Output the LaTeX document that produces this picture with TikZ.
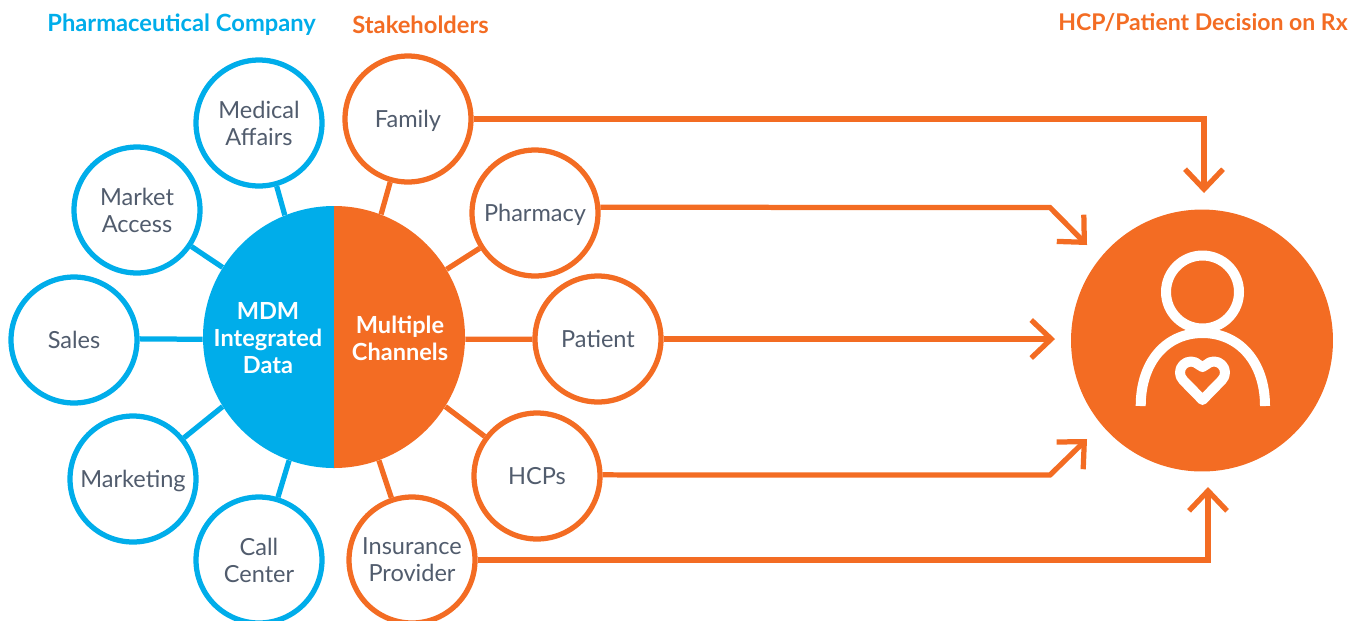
\documentclass[tikz,border=0pt]{standalone}
\usepackage{fontspec}
\setmainfont{Lato}
\usetikzlibrary{arrows.meta}
\definecolor{mdmblue}{HTML}{00ADEA}
\definecolor{rxorange}{HTML}{F36C23}
\definecolor{labelgray}{HTML}{515C6D}

\begin{document}
\begin{tikzpicture}[x=0.02cm,y=-0.02cm,line join=miter]
        \tikzstyle{bluenode}=[
            circle,
            draw=mdmblue,
            line width=0.105cm,
            fill=white,
            minimum size=2.52cm,
            inner sep=0pt,
            align=center,
            text=labelgray,
            font=\fontsize{13.4}{15.4}\selectfont
        ]
        \tikzstyle{orangenode}=[bluenode, draw=rxorange]
        \tikzstyle{hubnode}=[
            circle,
            minimum size=5.24cm,
            inner sep=0pt
        ]
        \tikzstyle{hubtext}=[
            align=center,
            text=white,
            font=\fontsize{13.4}{15.4}\selectfont\bfseries
        ]
        \tikzstyle{headnode}=[
            anchor=west,
            inner sep=0pt,
            font=\fontsize{13.5}{16}\selectfont\bfseries
        ]
        \tikzstyle{spoke}=[line width=0.105cm]
        \tikzstyle{flow}=[
            draw=rxorange,
            line width=0.105cm,
            -{Straight Barb[length=0.4cm,width=0.76cm]}
        ]
        \tikzstyle{icon}=[draw=white, line width=0.2cm]

        \useasboundingbox (0,0) rectangle (1351,620);

        % hub
        \node[hubnode] (hub) at (334,337){};
        \fill[mdmblue] (334,206) arc (-90:-270:131) -- cycle;
        \fill[rxorange] (334,206) arc (-90:90:131) -- cycle;
        \node[hubtext] (mdm) at (268,338){MDM\\Integrated\\Data};
        \node[hubtext] (channels) at (400,338){Multiple\\Channels};

        % pharma side
        \node[bluenode, text depth=-2.3pt] (medical) at (259,123){Medical\\Affairs};
        \node[bluenode, text depth=-2.3pt] (market) at (137,210){Market\\Access};
        \node[bluenode] (sales) at (74,340){Sales};
        \node[bluenode, text depth=0.4pt] (marketing) at (133,479){Marketing};
        \node[bluenode] (callcenter) at (259,560){Call\\Center};

        % stakeholders
        \node[orangenode, text depth=0.4pt] (family) at (408,119){Family};
        \node[orangenode, text depth=0.4pt] (pharmacy) at (535,213){Pharmacy};
        \node[orangenode] (patient) at (598,339){Patient};
        \node[orangenode] (hcps) at (537,476){HCPs};
        \node[orangenode, text depth=-1.7pt] (insurance) at (412,560){Insurance\\Provider};

        \draw[spoke, mdmblue] (medical) -- (hub.112);
        \draw[spoke, mdmblue] (market) -- (hub.148);
        \draw[spoke, mdmblue] (sales.1) -- (hub.181);
        \draw[spoke, mdmblue] (marketing) -- (hub.212);
        \draw[spoke, mdmblue] (callcenter) -- (hub.250);
        \draw[spoke, rxorange] (family) -- (hub.69);
        \draw[spoke, rxorange] (pharmacy) -- (hub.31);
        \draw[spoke, rxorange] (patient) -- (hub.-1);
        \draw[spoke, rxorange] (hcps) -- (hub.328);
        \draw[spoke, rxorange] (insurance) -- (hub.290);

        % headings
        \node[headnode, text=mdmblue] (pharmahead) at (47,25){Pharmaceutical Company};
        \node[headnode, text=rxorange] (stakehead) at (352,25){Stakeholders};
        \node[headnode, text=rxorange, font=\fontsize{13.1}{16}\selectfont\bfseries] (rxhead) at (1058,22){HCP/Patient Decision on Rx};

        % decision
        \node[hubnode, fill=rxorange] (decision) at (1202,340.5){};
        \node[circle, icon, minimum size=1.46cm, inner sep=0pt] (head) at (1202.5,292){};
        \draw[icon] (1140.7,406) .. controls (1140.7,362) and (1166,333) .. (1202.5,333)
            .. controls (1239,333) and (1265,362) .. (1265,406);
        \draw[icon, line join=round] (1202.5,400) -- (1183.2,380.3) arc (135:315:11)
            -- (1202.5,367) -- (1206.2,364.7) arc (225:405:11) -- cycle;

        % arrows
        \coordinate (familytip) at (1204,193);
        \coordinate (pharmacybend) at (1050,207.5);
        \coordinate (pharmacytip) at (1087,245);
        \coordinate (patienttip) at (1055,339);
        \coordinate (hcpsbend) at (1050,475);
        \coordinate (hcpstip) at (1087,439);
        \coordinate (insurancetip) at (1208,487);

        \draw[flow] (family) -| (familytip);
        \draw[flow] (pharmacy.5) -- (pharmacybend) -- (pharmacytip);
        \draw[flow] (patient) -- (patienttip);
        \draw[flow] (hcps.1) -- (hcpsbend) -- (hcpstip);
        \draw[flow] (insurance) -| (insurancetip);
    \end{tikzpicture}
\end{document}
